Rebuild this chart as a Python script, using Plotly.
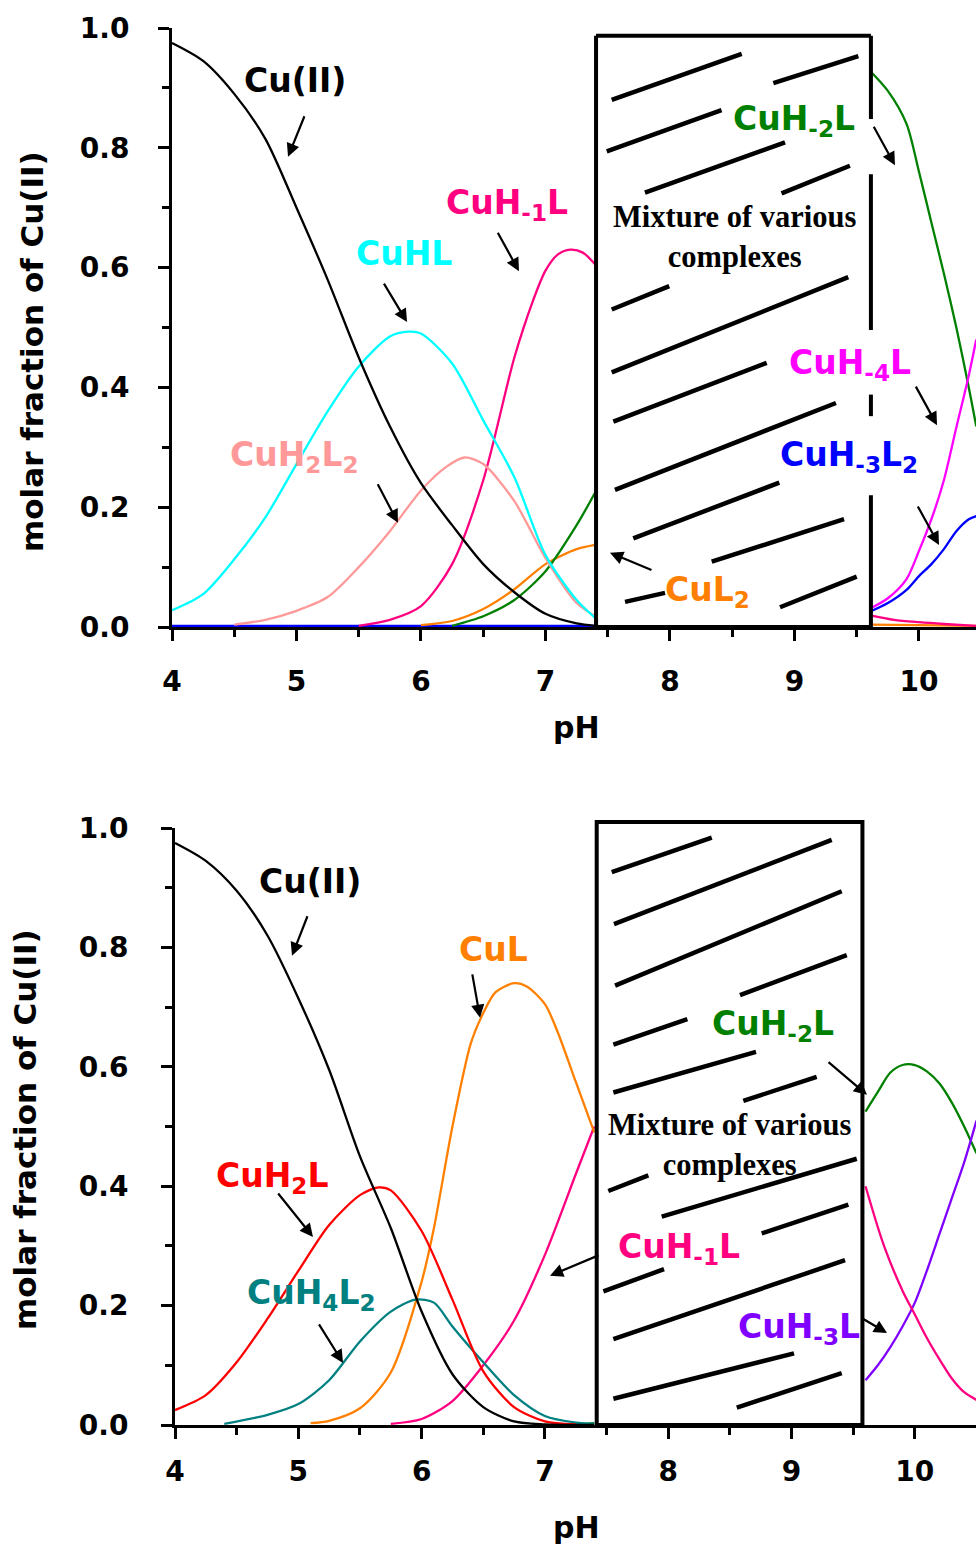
import plotly.graph_objects as go

W, H = 976, 1546

# ---------------- upper panel: species distribution (pH, molar fraction) ----------------
# "_hi" lists hold the part to the right of the mixture region
up_cu_ph = [4.0, 4.25, 4.5, 4.75, 5.0, 5.25, 5.5, 5.75, 6.0, 6.25, 6.5, 6.75, 7.0, 7.25, 7.4]
up_cu_fr = [0.975, 0.945, 0.89, 0.815, 0.70, 0.58, 0.45, 0.335, 0.24, 0.17, 0.105, 0.058, 0.022, 0.006, 0.002]

up_cuhl_ph = [4.0, 4.25, 4.5, 4.75, 5.0, 5.25, 5.5, 5.75, 5.9, 6.0, 6.25, 6.5, 6.75, 7.0, 7.25, 7.4]
up_cuhl_fr = [0.028, 0.055, 0.113, 0.183, 0.272, 0.36, 0.435, 0.485, 0.493, 0.49, 0.44, 0.345, 0.25, 0.12, 0.045, 0.015]

up_cuh2l2_ph = [4.5, 4.75, 5.0, 5.25, 5.5, 5.75, 6.0, 6.2, 6.35, 6.5, 6.75, 7.0, 7.25, 7.4]
up_cuh2l2_fr = [0.004, 0.012, 0.027, 0.05, 0.1, 0.16, 0.228, 0.267, 0.283, 0.272, 0.21, 0.115, 0.04, 0.018]

up_cuhm1l_ph = [5.5, 5.75, 6.0, 6.25, 6.5, 6.75, 6.9, 7.0, 7.1, 7.2, 7.3, 7.4]
up_cuhm1l_fr = [0.002, 0.012, 0.035, 0.105, 0.245, 0.45, 0.545, 0.595, 0.622, 0.63, 0.625, 0.605]
up_cuhm1l_ph_hi = [9.6, 9.8, 10.0, 10.2, 10.46]
up_cuhm1l_fr_hi = [0.02, 0.012, 0.008, 0.005, 0.002]

up_cul2_ph = [6.0, 6.25, 6.5, 6.75, 7.0, 7.25, 7.4]
up_cul2_fr = [0.003, 0.01, 0.03, 0.063, 0.105, 0.13, 0.137]
up_cul2_ph_hi = [9.6, 10.0, 10.46]
up_cul2_fr_hi = [0.004, 0.003, 0.002]

up_cuhm2l_ph = [6.25, 6.5, 6.75, 7.0, 7.25, 7.4]
up_cuhm2l_fr = [0.002, 0.018, 0.045, 0.093, 0.17, 0.225]
up_cuhm2l_ph_hi = [9.6, 9.75, 9.9, 10.0, 10.1, 10.2, 10.3, 10.4, 10.46]
up_cuhm2l_fr_hi = [0.93, 0.895, 0.84, 0.76, 0.675, 0.59, 0.5, 0.4, 0.335]

up_cuhm4l_ph_hi = [9.6, 9.75, 9.9, 10.0, 10.1, 10.2, 10.3, 10.4, 10.46]
up_cuhm4l_fr_hi = [0.03, 0.048, 0.08, 0.127, 0.18, 0.245, 0.333, 0.42, 0.48]

up_cuhm3l2_ph = [4.0, 7.4]
up_cuhm3l2_fr = [0.002, 0.002]
up_cuhm3l2_ph_hi = [9.6, 9.75, 9.9, 10.0, 10.1, 10.2, 10.3, 10.4, 10.46]
up_cuhm3l2_fr_hi = [0.025, 0.04, 0.062, 0.085, 0.105, 0.13, 0.16, 0.18, 0.185]

# ---------------- lower panel ----------------
lo_cu_ph = [4.0, 4.25, 4.5, 4.75, 5.0, 5.25, 5.5, 5.75, 6.0, 6.25, 6.5, 6.75, 7.0, 7.4]
lo_cu_fr = [0.975, 0.945, 0.895, 0.82, 0.715, 0.595, 0.45, 0.33, 0.19, 0.085, 0.03, 0.006, 0.001, 0.0]

lo_cuh2l_ph = [4.0, 4.25, 4.5, 4.75, 5.0, 5.25, 5.5, 5.65, 5.75, 6.0, 6.25, 6.5, 6.75, 7.0, 7.25]
lo_cuh2l_fr = [0.025, 0.05, 0.105, 0.178, 0.258, 0.335, 0.385, 0.398, 0.393, 0.325, 0.21, 0.09, 0.03, 0.006, 0.001]

lo_cuh4l2_ph = [4.4, 4.75, 5.0, 5.25, 5.5, 5.75, 5.95, 6.1, 6.25, 6.5, 6.75, 7.0, 7.25, 7.4]
lo_cuh4l2_fr = [0.002, 0.017, 0.035, 0.075, 0.14, 0.19, 0.21, 0.205, 0.165, 0.105, 0.05, 0.015, 0.004, 0.002]

lo_cul_ph = [5.1, 5.25, 5.5, 5.75, 6.0, 6.1, 6.25, 6.4, 6.5, 6.6, 6.75, 6.85, 7.0, 7.1, 7.25, 7.4]
lo_cul_fr = [0.003, 0.007, 0.028, 0.088, 0.24, 0.33, 0.5, 0.64, 0.69, 0.725, 0.74, 0.735, 0.705, 0.66, 0.575, 0.49]

lo_cuhm1l_ph = [5.75, 6.0, 6.25, 6.5, 6.75, 7.0, 7.25, 7.4]
lo_cuhm1l_fr = [0.002, 0.01, 0.04, 0.1, 0.175, 0.285, 0.42, 0.5]
lo_cuhm1l_ph_hi = [9.6, 9.75, 9.9, 10.0, 10.1, 10.2, 10.3, 10.4, 10.5]
lo_cuhm1l_fr_hi = [0.4, 0.3, 0.225, 0.185, 0.145, 0.11, 0.078, 0.055, 0.042]

lo_cuhm2l_ph = [7.0, 7.25, 7.4]
lo_cuhm2l_fr = [0.0, 0.001, 0.003]
lo_cuhm2l_ph_hi = [9.6, 9.7, 9.8, 9.9, 10.0, 10.1, 10.2, 10.3, 10.4, 10.5]
lo_cuhm2l_fr_hi = [0.525, 0.558, 0.59, 0.603, 0.603, 0.592, 0.572, 0.54, 0.5, 0.455]

lo_cuhm3l_ph_hi = [9.6, 9.7, 9.8, 9.9, 10.0, 10.1, 10.2, 10.3, 10.4, 10.5]
lo_cuhm3l_fr_hi = [0.075, 0.1, 0.13, 0.165, 0.205, 0.26, 0.32, 0.38, 0.44, 0.51]

# ---------------- geometry ----------------
UP_XMAX, LO_XMAX = 10.458, 10.496
UP_PX = (172, 28, 627)     # axis x, pixel row of 1.0, pixel row of 0.0
LO_PX = (175, 828, 1425)
FONT = "DejaVu Sans"


def join(ph_a, fr_a, ph_b=None, fr_b=None):
    if ph_b is None:
        return ph_a, fr_a
    return ph_a + [None] + ph_b, fr_a + [None] + fr_b


fig = go.Figure()


def add_line(ph, fr, color, xa, ya):
    fig.add_trace(go.Scatter(x=ph, y=fr, mode="lines", xaxis=xa, yaxis=ya,
                             line=dict(color=color, width=2.3, shape="spline", smoothing=0.8),
                             connectgaps=False, cliponaxis=False,
                             hoverinfo="skip", showlegend=False))


C_BLACK, C_CYAN, C_SALMON, C_PINK = "#000000", "#00FFFF", "#FF9999", "#FF0080"
C_ORANGE, C_GREEN, C_MAGENTA, C_BLUE = "#FF8000", "#008000", "#FF00FF", "#0000FF"
C_RED, C_TEAL, C_PURPLE = "#FF0000", "#008080", "#8000FF"

# upper panel curves
add_line(*join(up_cuhm3l2_ph, up_cuhm3l2_fr, up_cuhm3l2_ph_hi, up_cuhm3l2_fr_hi), C_BLUE, "x", "y")
add_line(*join(up_cul2_ph, up_cul2_fr, up_cul2_ph_hi, up_cul2_fr_hi), C_ORANGE, "x", "y")
add_line(*join(up_cuhm2l_ph, up_cuhm2l_fr, up_cuhm2l_ph_hi, up_cuhm2l_fr_hi), C_GREEN, "x", "y")
add_line(*join(up_cuhm1l_ph, up_cuhm1l_fr, up_cuhm1l_ph_hi, up_cuhm1l_fr_hi), C_PINK, "x", "y")
add_line(up_cuhm4l_ph_hi, up_cuhm4l_fr_hi, C_MAGENTA, "x", "y")
add_line(up_cuh2l2_ph, up_cuh2l2_fr, C_SALMON, "x", "y")
add_line(up_cuhl_ph, up_cuhl_fr, C_CYAN, "x", "y")
add_line(up_cu_ph, up_cu_fr, C_BLACK, "x", "y")

# lower panel curves
add_line(*join(lo_cuhm2l_ph, lo_cuhm2l_fr, lo_cuhm2l_ph_hi, lo_cuhm2l_fr_hi), C_GREEN, "x2", "y2")
add_line(lo_cuhm3l_ph_hi, lo_cuhm3l_fr_hi, C_PURPLE, "x2", "y2")
add_line(*join(lo_cuhm1l_ph, lo_cuhm1l_fr, lo_cuhm1l_ph_hi, lo_cuhm1l_fr_hi), C_PINK, "x2", "y2")
add_line(lo_cul_ph, lo_cul_fr, C_ORANGE, "x2", "y2")
add_line(lo_cuh4l2_ph, lo_cuh4l2_fr, C_TEAL, "x2", "y2")
add_line(lo_cuh2l_ph, lo_cuh2l_fr, C_RED, "x2", "y2")
add_line(lo_cu_ph, lo_cu_fr, C_BLACK, "x2", "y2")


def axis_pair(px, xmax, x_standoff, y_standoff):
    x0, ytop, ybot = px
    xa = dict(domain=[x0 / W, 1.0], range=[4, xmax], tick0=4, dtick=1, automargin=False,
              showline=True, linecolor="black", linewidth=3,
              ticks="outside", ticklen=11, tickwidth=3, tickcolor="black",
              ticklabelstandoff=x_standoff,
              tickfont=dict(family=FONT, size=28, color="black", weight="bold"),
              minor=dict(dtick=0.5, ticks="outside", ticklen=7, tickwidth=3,
                         tickcolor="black", showgrid=False),
              showgrid=False, zeroline=False, fixedrange=True)
    ya = dict(domain=[(H - ybot) / H, (H - ytop) / H], range=[0, 1.0], automargin=False,
              tick0=0, dtick=0.2, tickformat=".1f",
              showline=True, linecolor="black", linewidth=3,
              ticks="outside", ticklen=11, tickwidth=3, tickcolor="black",
              ticklabelstandoff=y_standoff,
              tickfont=dict(family=FONT, size=28, color="black", weight="bold"),
              minor=dict(dtick=0.1, ticks="outside", ticklen=7, tickwidth=3,
                         tickcolor="black", showgrid=False),
              showgrid=False, zeroline=False, fixedrange=True)
    return xa, ya


xa1, ya1 = axis_pair(UP_PX, UP_XMAX, 16, 23)
xa2, ya2 = axis_pair(LO_PX, LO_XMAX, 8, 27)
ya1["anchor"] = "x"
xa1["anchor"] = "y"
ya2["anchor"] = "x2"
xa2["anchor"] = "y2"

# ---------------- "mixture" boxes with hatching ----------------
shapes = []
BOX_W = 4
HATCH_W = 4.5

# upper box: x 7.406 .. 9.614, top 0.987; right edge broken where labels sit
up_box = (7.406, 9.614, 0.987)
shapes.append(dict(type="rect", xref="x", yref="y", x0=up_box[0], x1=up_box[1], y0=0, y1=up_box[2],
                   fillcolor="white", line=dict(width=0), layer="above"))
for (xa, ya, xb, yb) in [(up_box[0], 0, up_box[0], up_box[2]),
                         (up_box[0], up_box[2], up_box[1], up_box[2]),
                         (up_box[0], 0, up_box[1], 0)]:
    shapes.append(dict(type="line", xref="x", yref="y", x0=xa, y0=ya, x1=xb, y1=yb,
                       line=dict(color="black", width=BOX_W)))
for (ya, yb) in [(0.987, 0.848), (0.756, 0.496), (0.388, 0.352), (0.22, 0.0)]:
    shapes.append(dict(type="line", xref="x", yref="y", x0=up_box[1], y0=ya, x1=up_box[1], y1=yb,
                       line=dict(color="black", width=BOX_W)))

up_hatch = [(7.532, 0.880, 8.576, 0.957), (8.830, 0.908, 9.513, 0.953),
            (7.492, 0.794, 8.414, 0.863), (7.799, 0.725, 8.924, 0.809),
            (8.896, 0.724, 9.445, 0.770), (7.532, 0.530, 7.994, 0.569),
            (7.532, 0.425, 9.432, 0.584), (7.545, 0.343, 8.777, 0.441),
            (7.558, 0.229, 9.333, 0.374), (7.705, 0.148, 8.878, 0.241),
            (8.335, 0.109, 9.398, 0.180), (7.639, 0.042, 7.960, 0.057),
            (8.884, 0.033, 9.500, 0.084)]
for (xa, ya, xb, yb) in up_hatch:
    shapes.append(dict(type="line", xref="x", yref="y", x0=xa, y0=ya, x1=xb, y1=yb,
                       line=dict(color="black", width=HATCH_W)))

# lower box: top edge sits slightly above 1.0, so it is placed in domain units
lo_box = (7.42, 9.575, 1.01)


def dom2(ph):
    return (ph - 4) / (LO_XMAX - 4)


shapes.append(dict(type="rect", xref="x2 domain", yref="y2 domain",
                   x0=dom2(lo_box[0]), x1=dom2(lo_box[1]), y0=0, y1=lo_box[2],
                   fillcolor="white", line=dict(color="black", width=BOX_W), layer="above"))

lo_hatch = [(7.542, 0.926, 8.353, 0.984), (7.560, 0.839, 9.326, 0.980),
            (7.569, 0.736, 9.407, 0.894), (8.582, 0.720, 9.448, 0.787),
            (7.555, 0.637, 8.155, 0.680), (7.555, 0.557, 8.712, 0.625),
            (8.609, 0.543, 9.204, 0.583), (7.514, 0.392, 7.839, 0.418),
            (7.947, 0.349, 9.529, 0.446), (8.758, 0.321, 9.461, 0.369),
            (7.474, 0.224, 7.966, 0.261), (7.555, 0.144, 9.434, 0.276),
            (7.555, 0.044, 9.020, 0.120), (8.556, 0.029, 9.407, 0.087)]
for (xa, ya, xb, yb) in lo_hatch:
    shapes.append(dict(type="line", xref="x2", yref="y2", x0=xa, y0=ya, x1=xb, y1=yb,
                       line=dict(color="black", width=HATCH_W)))

# ---------------- labels and pointer arrows ----------------
annotations = []
LABEL_SIZE = 33


def label(text, ph, fr, color, xa="x", ya="y"):
    annotations.append(dict(text="<b>" + text + "</b>", x=ph, y=fr, xref=xa, yref=ya,
                            showarrow=False, xanchor="center", yanchor="middle",
                            font=dict(family=FONT, size=LABEL_SIZE, color=color)))


def pointer(ph, fr, dx, dy, xa="x", ya="y"):
    annotations.append(dict(text="", x=ph, y=fr, xref=xa, yref=ya, ax=dx, ay=dy,
                            showarrow=True, arrowhead=2, arrowsize=1.2, arrowwidth=2.2,
                            arrowcolor="black", standoff=0, startstandoff=0))


# upper panel
label("Cu(II)", 4.99, 0.913, C_BLACK)
label("CuHL", 5.86, 0.624, C_CYAN)
label("CuH<sub>-1</sub>L", 6.69, 0.705, C_PINK)
label("CuH<sub>2</sub>L<sub>2</sub>", 4.98, 0.284, C_SALMON)
label("CuL<sub>2</sub>", 8.30, 0.06, C_ORANGE)
label("CuH<sub>-2</sub>L", 9.0, 0.846, C_GREEN)
label("CuH<sub>-4</sub>L", 9.446, 0.439, C_MAGENTA)
label("CuH<sub>-3</sub>L<sub>2</sub>", 9.438, 0.284, C_BLUE)

pointer(4.932, 0.785, 17, -42)
pointer(5.888, 0.509, -24, -40)
pointer(6.787, 0.594, -22, -40)
pointer(5.815, 0.174, -21, -40)
pointer(7.518, 0.124, 43, 18)
pointer(9.807, 0.771, -22, -40)
pointer(10.145, 0.337, -22, -40)
pointer(10.161, 0.137, -22, -40)

# lower panel
label("Cu(II)", 5.095, 0.91, C_BLACK, "x2", "y2")
label("CuL", 6.587, 0.796, C_ORANGE, "x2", "y2")
label("CuH<sub>-2</sub>L", 8.846, 0.67, C_GREEN, "x2", "y2")
label("CuH<sub>2</sub>L", 4.783, 0.415, C_RED, "x2", "y2")
label("CuH<sub>4</sub>L<sub>2</sub>", 5.107, 0.219, C_TEAL, "x2", "y2")
label("CuH<sub>-1</sub>L", 8.088, 0.295, C_PINK, "x2", "y2")
label("CuH<sub>-3</sub>L", 9.057, 0.161, C_PURPLE, "x2", "y2")

pointer(4.949, 0.786, 16, -41, "x2", "y2")
pointer(6.474, 0.682, -8, -45, "x2", "y2")
pointer(5.119, 0.315, -36, -45, "x2", "y2")
pointer(5.363, 0.104, -25, -40, "x2", "y2")
pointer(9.612, 0.553, -40, -34, "x2", "y2")
pointer(7.041, 0.25, 50, -21, "x2", "y2")
pointer(9.775, 0.154, -27, -16, "x2", "y2")

# box captions
for (ph, fr, xa, ya) in [(8.52, 0.651, "x", "y"), (8.50, 0.469, "x2", "y2")]:
    annotations.append(dict(text="<b>Mixture of various<br>complexes</b>", x=ph, y=fr,
                            xref=xa, yref=ya, showarrow=False, align="center",
                            xanchor="center", yanchor="middle",
                            font=dict(family="Liberation Serif", size=30.5, color="black")))

# axis titles
for (xp, yp) in [(32, 352), (25, 1130)]:
    annotations.append(dict(text="<b>molar fraction of Cu(II)</b>", x=xp / W, y=(H - yp) / H,
                            xref="paper", yref="paper", textangle=-90, showarrow=False,
                            xanchor="center", yanchor="middle",
                            font=dict(family=FONT, size=31, color="black")))
for yp in [727, 1527]:
    annotations.append(dict(text="<b>pH</b>", x=576 / W, y=(H - yp) / H,
                            xref="paper", yref="paper", showarrow=False,
                            xanchor="center", yanchor="middle",
                            font=dict(family=FONT, size=30, color="black")))

fig.update_layout(width=W, height=H, margin=dict(l=0, r=0, t=0, b=0, autoexpand=False),
                  paper_bgcolor="white", plot_bgcolor="white",
                  xaxis=xa1, yaxis=ya1, xaxis2=xa2, yaxis2=ya2,
                  shapes=shapes, annotations=annotations, showlegend=False)

fig.write_html("out.html")
